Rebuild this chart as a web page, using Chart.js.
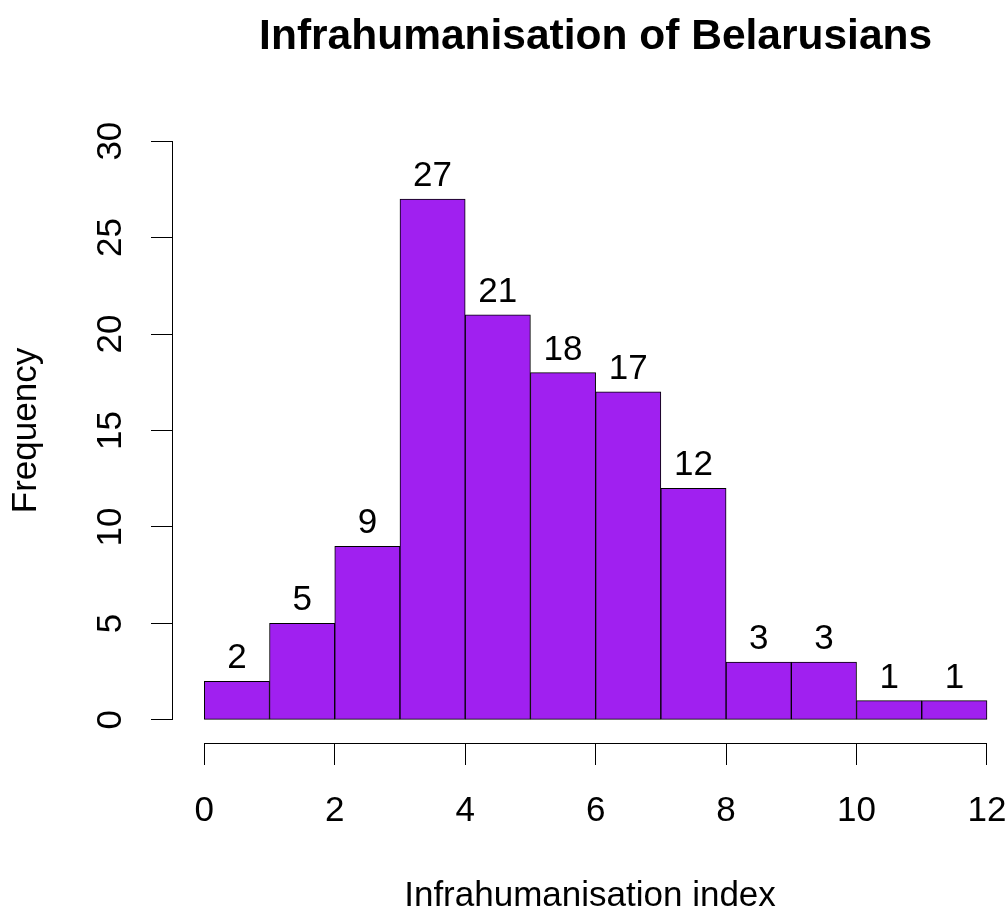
<!DOCTYPE html>
<html>
<head>
<meta charset="utf-8">
<title>Infrahumanisation of Belarusians</title>
<script src="https://cdn.jsdelivr.net/npm/chart.js@4"></script>
<style>
  html, body { margin: 0; padding: 0; background: #fff; }
  #wrap { width: 1007px; height: 906px; }
</style>
</head>
<body>
<div id="wrap"><canvas id="hist"></canvas></div>
<script>
// histogram data
const binEdges = [0, 1, 2, 3, 4, 5, 6, 7, 8, 9, 10, 11, 12];
const counts = [2, 5, 9, 27, 21, 18, 17, 12, 3, 3, 1, 1];
const xTicks = [0, 2, 4, 6, 8, 10, 12];
const yTicks = [0, 5, 10, 15, 20, 25, 30];

const FONT = "'Liberation Sans', Arial, sans-serif";
const BAR_FILL = '#A020F0';

const bars = counts.map((c, i) => ({ x: (binEdges[i] + binEdges[i + 1]) / 2, y: c }));

// R style axis lines: only from first to last tick
const rAxes = {
  id: 'rAxes',
  afterDraw(chart) {
    const { ctx, chartArea, scales } = chart;
    const x = scales.x, y = scales.y;
    ctx.save();
    ctx.strokeStyle = '#000';
    ctx.lineWidth = 1;
    ctx.beginPath();
    const yb = Math.round(chartArea.bottom) + 0.5;
    ctx.moveTo(x.getPixelForValue(xTicks[0]), yb);
    ctx.lineTo(x.getPixelForValue(xTicks[xTicks.length - 1]), yb);
    const xl = Math.round(chartArea.left) - 0.5;
    ctx.moveTo(xl, y.getPixelForValue(yTicks[0]));
    ctx.lineTo(xl, y.getPixelForValue(yTicks[yTicks.length - 1]));
    ctx.stroke();

    // main title, centred over the plot
    ctx.fillStyle = '#000';
    ctx.font = 'bold 42.5px ' + FONT;
    ctx.textAlign = 'center';
    ctx.textBaseline = 'alphabetic';
    const cx = (x.getPixelForValue(xTicks[0]) + x.getPixelForValue(xTicks[xTicks.length - 1])) / 2;
    ctx.fillText('Infrahumanisation of Belarusians', cx, 49);
    ctx.restore();
  }
};

// count labels above each bar
const barLabels = {
  id: 'barLabels',
  afterDatasetsDraw(chart) {
    const { ctx } = chart;
    const meta = chart.getDatasetMeta(0);
    ctx.save();
    ctx.fillStyle = '#000';
    ctx.font = '35px ' + FONT;
    ctx.textAlign = 'center';
    ctx.textBaseline = 'alphabetic';
    meta.data.forEach((bar, i) => {
      ctx.fillText(String(counts[i]), bar.x, bar.y - 13);
    });
    ctx.restore();
  }
};

new Chart(document.getElementById('hist'), {
  type: 'bar',
  data: {
    datasets: [{
      data: bars,
      backgroundColor: BAR_FILL,
      borderColor: '#000',
      borderWidth: 1,
      borderSkipped: false,
      barPercentage: 1,
      categoryPercentage: 1
    }]
  },
  options: {
    responsive: true,
    maintainAspectRatio: false,
    animation: false,
    devicePixelRatio: 1,
    layout: { padding: { top: 118, left: 0, right: 0, bottom: 0 } },
    plugins: {
      legend: { display: false },
      tooltip: { enabled: false },
      title: { display: false }
    },
    scales: {
      x: {
        type: 'linear',
        offset: false,
        min: -0.48,
        max: 12.307,
        afterBuildTicks: (axis) => { axis.ticks = xTicks.map(v => ({ value: v })); },
        afterFit: (axis) => {
          axis.height = 163;
          axis.paddingLeft = 0;
          axis.paddingRight = 0;
        },
        border: { display: false },
        grid: { offset: false, drawOnChartArea: false, drawTicks: true, tickLength: 22, color: '#000', tickColor: '#000', lineWidth: 1 },
        ticks: {
          color: '#000',
          font: { family: FONT, size: 35 },
          padding: 25,
          maxRotation: 0,
          autoSkip: false
        },
        title: {
          display: true,
          text: 'Infrahumanisation index',
          color: '#000',
          font: { family: FONT, size: 35, lineHeight: 1.2 },
          padding: { top: 0, bottom: -11 }
        }
      },
      y: {
        type: 'linear',
        min: -1.2,
        max: 31.2,
        afterBuildTicks: (axis) => { axis.ticks = yTicks.map(v => ({ value: v })); },
        afterFit: (axis) => {
          axis.width = 173;
          axis.paddingTop = 0;
          axis.paddingBottom = 0;
        },
        border: { display: false },
        grid: { drawOnChartArea: false, drawTicks: true, tickLength: 22, color: '#000', tickColor: '#000', lineWidth: 1 },
        ticks: {
          color: '#000',
          font: { family: FONT, size: 35 },
          padding: 20,
          minRotation: 90,
          maxRotation: 90,
          crossAlign: 'center',
          autoSkip: false
        },
        title: {
          display: true,
          text: 'Frequency',
          color: '#000',
          font: { family: FONT, size: 35, lineHeight: 1.2 },
          padding: { top: 5, bottom: 0 }
        }
      }
    }
  },
  plugins: [barLabels, rAxes]
});
</script>
</body>
</html>
